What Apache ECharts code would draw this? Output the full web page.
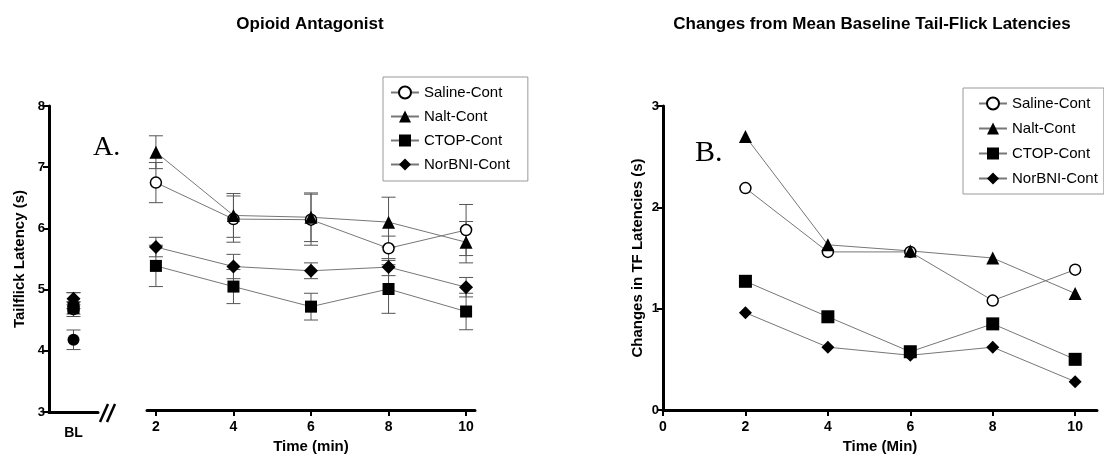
<!DOCTYPE html>
<html>
<head>
<meta charset="utf-8">
<title>Opioid Antagonist</title>
<script src="https://cdn.jsdelivr.net/npm/echarts@6.0.0/dist/echarts.min.js"></script>
<style>
  html, body { margin: 0; padding: 0; background: #fff; }
  #chart { width: 1104px; height: 459px; }
</style>
</head>
<body>
<div id="chart"></div>
<script>
// time after injection (min)
var times = [2, 4, 6, 8, 10];
var groups = ['Saline-Cont', 'Nalt-Cont', 'CTOP-Cont', 'NorBNI-Cont'];

// panel A: tail-flick latency (s), mean and SEM
var salineLat = [6.74, 6.14, 6.13, 5.66, 5.96];
var salineSem = [0.33, 0.38, 0.42, 0.20, 0.42];
var naltLat = [7.24, 6.20, 6.17, 6.09, 5.76];
var naltSem = [0.27, 0.36, 0.40, 0.41, 0.34];
var ctopLat = [5.37, 5.03, 4.70, 4.99, 4.62];
var ctopSem = [0.34, 0.28, 0.22, 0.40, 0.30];
var norbniLat = [5.68, 5.36, 5.29, 5.35, 5.02];
var norbniSem = [0.16, 0.20, 0.13, 0.14, 0.16];

// panel A: baseline (BL) latencies
var blCategory = ['BL'];
var blLat = [4.68, 4.82, 4.70, 4.85]; // in order of groups
var blSem = [0.12, 0.13, 0.10, 0.10];
var blPooled = 4.18;
var blPooledSem = 0.16;

// panel B: change from mean baseline (s)
var salineChg = [2.19, 1.56, 1.56, 1.08, 1.385];
var naltChg = [2.70, 1.63, 1.57, 1.50, 1.15];
var ctopChg = [1.27, 0.92, 0.575, 0.85, 0.50];
var norbniChg = [0.96, 0.62, 0.54, 0.62, 0.28];

var yTicksA = [3, 8];
var yTicksB = [0, 3];

var FONT = "'Liberation Sans', Arial, sans-serif";

var latByGroup = [salineLat, naltLat, ctopLat, norbniLat];
var semByGroup = [salineSem, naltSem, ctopSem, norbniSem];
var chgByGroup = [salineChg, naltChg, ctopChg, norbniChg];

var markStyle = [
  { symbol: 'circle', size: 11, fill: '#fff' },
  { symbol: 'triangle', size: 13, fill: '#000' },
  { symbol: 'rect', size: 12, fill: '#000' },
  { symbol: 'diamond', size: 14, fill: '#000' }
];

function errorBar(params, api) {
  var x = api.value(0);
  var lo = api.coord([x, api.value(1)]);
  var hi = api.coord([x, api.value(2)]);
  var w = 7;
  var st = { stroke: '#555', lineWidth: 1 };
  return {
    type: 'group',
    children: [
      { type: 'line', shape: { x1: lo[0], y1: lo[1], x2: hi[0], y2: hi[1] }, style: st },
      { type: 'line', shape: { x1: lo[0] - w, y1: lo[1], x2: lo[0] + w, y2: lo[1] }, style: st },
      { type: 'line', shape: { x1: hi[0] - w, y1: hi[1], x2: hi[0] + w, y2: hi[1] }, style: st }
    ]
  };
}

function lineSeries(name, k, data, axis) {
  var m = markStyle[k];
  return {
    name: name,
    type: 'line',
    xAxisIndex: axis,
    yAxisIndex: axis,
    data: data,
    symbol: m.symbol,
    symbolSize: m.size,
    showAllSymbol: true,
    lineStyle: { color: '#777', width: 1 },
    itemStyle: { color: m.fill, borderColor: '#000', borderWidth: m.fill === '#fff' ? 1.5 : 0 },
    z: 3
  };
}

var series = [];

// baseline column
series.push({
  type: 'custom',
  xAxisIndex: 0,
  yAxisIndex: 0,
  renderItem: errorBar,
  encode: { x: 0, y: [1, 2] },
  data: blLat.map(function (v, i) { return [0, v - blSem[i], v + blSem[i]]; })
    .concat([[0, blPooled - blPooledSem, blPooled + blPooledSem]]),
  z: 1
});
series.push({
  name: 'Baseline',
  type: 'line',
  xAxisIndex: 0,
  yAxisIndex: 0,
  data: [[0, blPooled]],
  symbol: 'circle',
  symbolSize: 12,
  itemStyle: { color: '#000' },
  lineStyle: { width: 0 },
  z: 3
});
groups.forEach(function (g, k) {
  series.push(lineSeries(g, k, [[0, blLat[k]]], 0));
});

// panel A time course
groups.forEach(function (g, k) {
  var vals = latByGroup[k];
  var sem = semByGroup[k];
  series.push({
    type: 'custom',
    xAxisIndex: 1,
    yAxisIndex: 1,
    renderItem: errorBar,
    encode: { x: 0, y: [1, 2] },
    data: times.map(function (t, i) { return [t, vals[i] - sem[i], vals[i] + sem[i]]; }),
    z: 1
  });
});
groups.forEach(function (g, k) {
  var vals = latByGroup[k];
  series.push(lineSeries(g, k, times.map(function (t, i) { return [t, vals[i]]; }), 1));
});

// panel B
groups.forEach(function (g, k) {
  var vals = chgByGroup[k];
  var s = lineSeries(g, k, times.map(function (t, i) { return [t, vals[i]]; }), 2);
  s.symbolSize = k === 0 ? 11 : 13;
  series.push(s);
});

var axisLine = { show: true, onZero: false, lineStyle: { color: '#000', width: 3 } };
var axisTick = { show: true, length: 6, lineStyle: { color: '#000', width: 2 } };
var axisLabel = { color: '#000', fontSize: 13, fontWeight: 'bold', fontFamily: FONT };
var xLabel = Object.assign({}, axisLabel, { fontSize: 14 });
var nameStyle = { color: '#000', fontSize: 15, fontWeight: 'bold', fontFamily: FONT };

function legend(left, top, padding, gap) {
  return {
    data: groups,
    orient: 'vertical',
    left: left,
    top: top,
    padding: padding,
    itemGap: gap,
    itemWidth: 28,
    itemHeight: 15,
    selectedMode: false,
    borderColor: '#999',
    borderWidth: 1,
    textStyle: { color: '#000', fontSize: 15, fontFamily: FONT }
  };
}

var chart = echarts.init(document.getElementById('chart'));
chart.setOption({
  animation: false,
  backgroundColor: '#fff',
  grid: [
    { left: 49, top: 106, width: 49, height: 306 },
    { left: 147, top: 106, width: 328, height: 306 },
    { left: 663, top: 106, width: 434, height: 306 }
  ],
  xAxis: [
    {
      gridIndex: 0,
      type: 'category',
      data: blCategory,
      axisLine: axisLine,
      axisTick: { show: false },
      axisLabel: Object.assign({}, xLabel, { margin: 14 })
    },
    {
      gridIndex: 1,
      type: 'value',
      min: 1.77,
      max: 10.23,
      splitLine: { show: false },
      axisLine: axisLine,
      axisTick: Object.assign({ customValues: times }, axisTick),
      axisLabel: Object.assign({ customValues: times, margin: 10 }, xLabel),
      name: 'Time (min)',
      nameLocation: 'middle',
      nameGap: 29,
      nameTextStyle: nameStyle
    },
    {
      gridIndex: 2,
      type: 'value',
      min: 0,
      max: 10.53,
      splitLine: { show: false },
      axisLine: axisLine,
      axisTick: Object.assign({ customValues: [0].concat(times) }, axisTick),
      axisLabel: Object.assign({ customValues: [0].concat(times), margin: 10 }, xLabel),
      name: 'Time (Min)',
      nameLocation: 'middle',
      nameGap: 29,
      nameTextStyle: nameStyle
    }
  ],
  yAxis: [
    {
      gridIndex: 0,
      type: 'value',
      min: yTicksA[0],
      max: yTicksA[1],
      interval: 1,
      splitLine: { show: false },
      axisLine: axisLine,
      axisTick: axisTick,
      axisLabel: Object.assign({ margin: 4 }, axisLabel),
      name: 'Tailflick Latency (s)',
      nameLocation: 'middle',
      nameGap: 22,
      nameTextStyle: nameStyle
    },
    {
      gridIndex: 1,
      type: 'value',
      min: yTicksA[0],
      max: yTicksA[1],
      show: false
    },
    {
      gridIndex: 2,
      type: 'value',
      min: yTicksB[0],
      max: yTicksB[1],
      interval: 1,
      splitLine: { show: false },
      axisLine: axisLine,
      axisTick: axisTick,
      axisLabel: Object.assign({ margin: 4 }, axisLabel),
      name: 'Changes in TF Latencies (s)',
      nameLocation: 'middle',
      nameGap: 18,
      nameTextStyle: nameStyle
    }
  ],
  legend: [
    legend(383, 77, [8, 18, 9, 7], 9),
    legend(963, 88, [8, 6, 8, 15], 10)
  ],
  graphic: [
    { type: 'text', x: 310, y: 24, style: { text: 'Opioid Antagonist', fill: '#000', font: 'bold 17px ' + FONT, textAlign: 'center', textVerticalAlign: 'middle' } },
    { type: 'text', x: 872, y: 24, style: { text: 'Changes from Mean Baseline Tail-Flick Latencies', fill: '#000', font: 'bold 17px ' + FONT, textAlign: 'center', textVerticalAlign: 'middle' } },
    { type: 'text', x: 93, y: 148, style: { text: 'A.', fill: '#000', font: "28px 'Liberation Serif', 'DejaVu Serif', serif", textAlign: 'left', textVerticalAlign: 'middle' } },
    { type: 'text', x: 695, y: 153, style: { text: 'B.', fill: '#000', font: "30px 'Liberation Serif', 'DejaVu Serif', serif", textAlign: 'left', textVerticalAlign: 'middle' } },
    { type: 'line', shape: { x1: 100, y1: 422, x2: 108, y2: 404 }, style: { stroke: '#000', lineWidth: 2.5 } },
    { type: 'line', shape: { x1: 107, y1: 422, x2: 115, y2: 404 }, style: { stroke: '#000', lineWidth: 2.5 } }
  ],
  series: series
});
</script>
</body>
</html>
